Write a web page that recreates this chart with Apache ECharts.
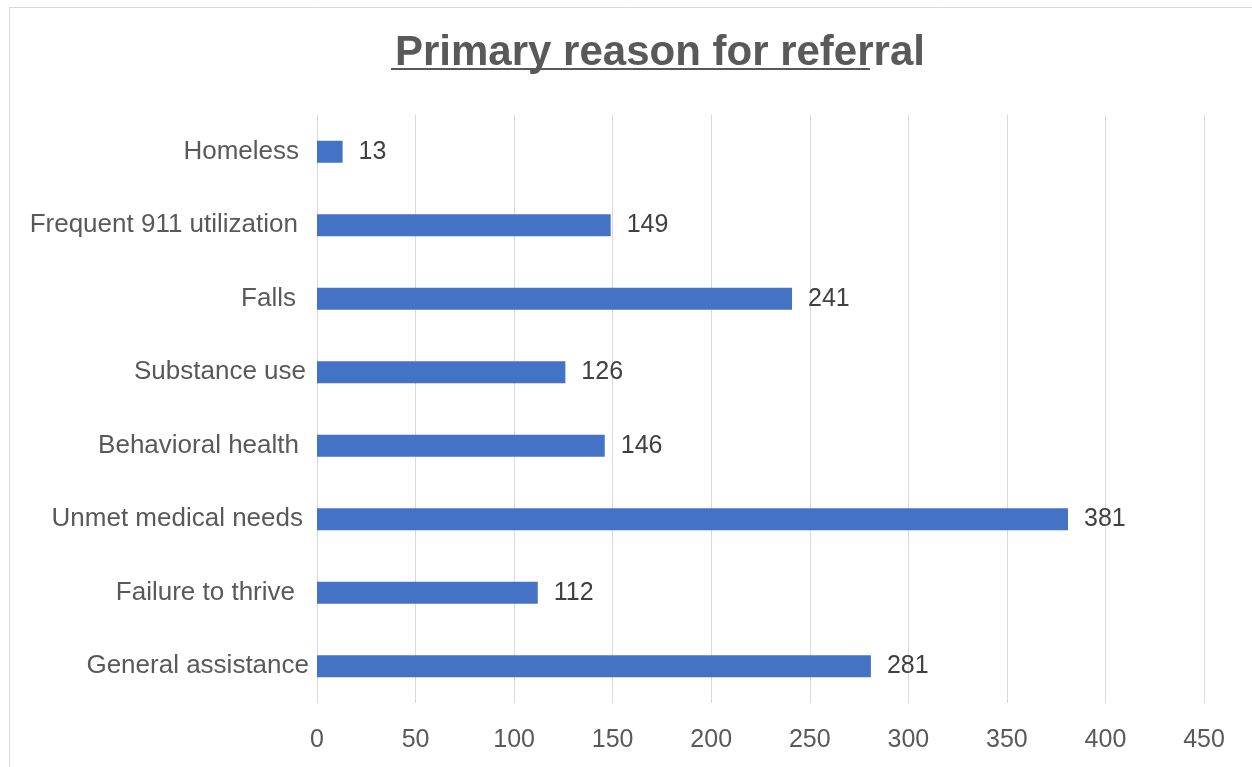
<!DOCTYPE html>
<html>
<head>
<meta charset="utf-8">
<style>
html,body{margin:0;padding:0;background:#fff;}
#c{width:1252px;height:767px;}
</style>
<script src="https://cdn.jsdelivr.net/npm/echarts@6/dist/echarts.min.js"></script>
</head>
<body>
<div id="c"></div>
<script>
const categories = ['Homeless','Frequent 911 utilization','Falls','Substance use','Behavioral health','Unmet medical needs','Failure to thrive','General assistance'];
const values = [13,149,241,126,146,381,112,281];
const xTicks = [0,50,100,150,200,250,300,350,400,450];
// per-label right padding (reproduces the ragged alignment of the original)
const labelPad = [10,11,13,3,10,6,14,0];

const chart = echarts.init(document.getElementById('c'));
const font = 'Liberation Sans, Arial, Helvetica, sans-serif';
chart.setOption({
  backgroundColor:'#fff',
  animation:false,
  title:{
    text:'Primary reason for referral',
    left:390, top:27,
    textStyle:{fontFamily:font,fontSize:42,fontWeight:'bold',color:'#595959'}
  },
  graphic:[
    {type:'line',shape:{x1:391,y1:69,x2:870,y2:69},style:{stroke:'#595959',lineWidth:2}},
    {type:'line',shape:{x1:9,y1:7.5,x2:1252,y2:7.5},style:{stroke:'#d9d9d9',lineWidth:1}},
    {type:'line',shape:{x1:9.5,y1:7,x2:9.5,y2:767},style:{stroke:'#d9d9d9',lineWidth:1}}
  ],
  grid:{left:317,right:48,top:115,bottom:64,containLabel:false},
  xAxis:{
    type:'value',min:0,max:450,interval:50,
    axisLine:{show:false},axisTick:{show:false},
    splitLine:{show:true,lineStyle:{color:'#d9d9d9',width:1}},
    axisLabel:{fontFamily:font,fontSize:25,color:'#595959',margin:25,
      formatter:v=>xTicks.includes(v)?String(v):''}
  },
  yAxis:{
    type:'category',inverse:true,
    data:categories.map((c,i)=>({value:c,textStyle:{padding:[0,labelPad[i],0,0]}})),
    axisLine:{show:false},axisTick:{show:false},splitLine:{show:false},
    axisLabel:{fontFamily:font,fontSize:26,color:'#595959',margin:8}
  },
  series:[{
    type:'bar',data:values,barWidth:22,
    itemStyle:{color:'#4472C4'},
    label:{show:true,position:'right',distance:16,fontFamily:font,fontSize:25,color:'#404040'}
  }]
});
</script>
</body>
</html>
